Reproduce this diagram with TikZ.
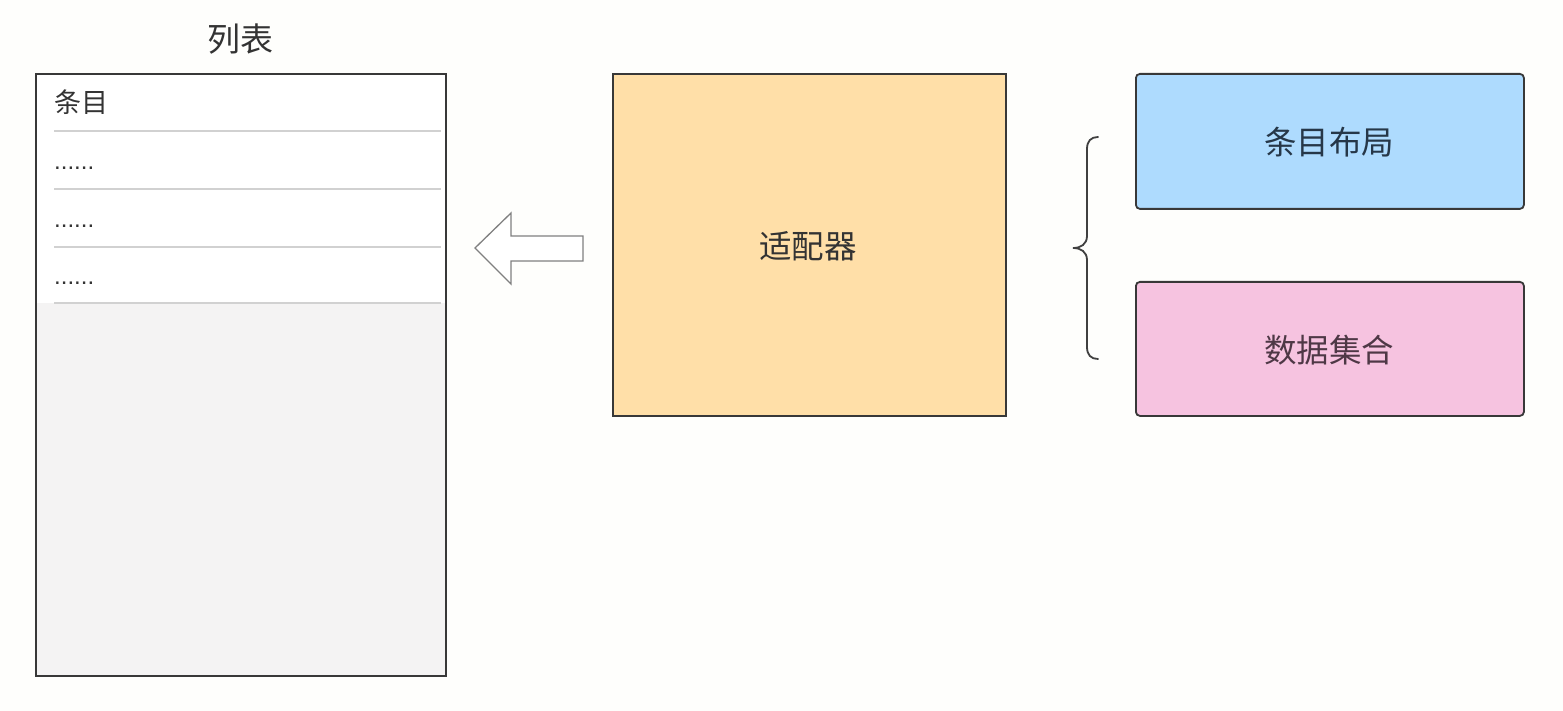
\documentclass[tikz,border=0pt]{standalone}
\usepackage{fontspec}
\setmainfont{Noto Sans CJK SC}
\newfontfamily\latinfont{Liberation Sans}
\begin{document}
\begin{tikzpicture}[x=1pt,y=-1pt,
  box/.style={draw=black!78,line width=1.8pt},
  rowline/.style={draw=black!18,line width=1.2pt},
  label/.style={text=black!80,font=\fontsize{32.5}{38}\selectfont,inner sep=0pt},
  dots/.style={anchor=base west,text=black!80,font=\latinfont\fontsize{24}{28}\selectfont,inner sep=0pt},
  hollowarrow/.style={draw=black!50,line width=1.3pt,fill=white,line join=miter},
  bracestyle/.style={draw=black!75,line width=1.8pt,line cap=round}]
\definecolor{bg}{HTML}{FEFEFC}
\definecolor{listgray}{HTML}{F4F3F3}
\definecolor{adapt}{HTML}{FFDFA8}
\definecolor{bluebox}{HTML}{AEDBFE}
\definecolor{pinkbox}{HTML}{F6C3E0}
\fill[bg] (0,0) rectangle (1563,711);
\useasboundingbox (0,0) rectangle (1563,711);
% list
\fill[white] (35,73) rectangle (445,303);
\fill[listgray] (35,303) rectangle (445,675);
\node[box,minimum width=410pt,minimum height=602pt,anchor=north west,inner sep=0pt] (list) at (35,73) {};
\node[label,font=\fontsize{33}{38}\selectfont] (title) at (240,39) {列表};
\node[label,anchor=west,font=\fontsize{27}{31}\selectfont] (item) at (54,102) {条目};
\draw[rowline] (54,131) coordinate (r1a) -- (441,131) coordinate (r1b);
\draw[rowline] (54,189) coordinate (r2a) -- (441,189) coordinate (r2b);
\draw[rowline] (54,247) coordinate (r3a) -- (441,247) coordinate (r3b);
\draw[rowline] (54,303) coordinate (r4a) -- (441,303) coordinate (r4b);
\node[dots] (d1) at (54,170) {......};
\node[dots] (d2) at (54,228) {......};
\node[dots] (d3) at (54,285) {......};
% arrow
\draw[hollowarrow] (475,248) -- (511,213) -- (511,236) -- (583,236) -- (583,261) -- (511,261) -- (511,284) -- cycle;
% adapter
\node[box,fill=adapt,minimum width=393pt,minimum height=342pt,anchor=north west,inner sep=0pt] (adapter) at (612,73) {};
\node[label] (adaptertext) at (808,246) {适配器};
% brace
\draw[bracestyle] (1098,137) .. controls (1091,137) and (1087,141) .. (1087,149) -- (1087,236) .. controls (1087,244) and (1081,248) .. (1073,248) .. controls (1081,248) and (1087,252) .. (1087,260) -- (1087,347) .. controls (1087,355) and (1091,359) .. (1098,359);
% right boxes
\node[box,fill=bluebox,rounded corners=4pt,minimum width=388pt,minimum height=135pt,anchor=north west,inner sep=0pt] (layout) at (1135,73) {};
\node[label,text={rgb,255:red,38;green,55;blue,72}] (layouttext) at (1329,142) {条目布局};
\node[box,fill=pinkbox,rounded corners=4pt,minimum width=388pt,minimum height=134pt,anchor=north west,inner sep=0pt] (data) at (1135,281) {};
\node[label,text={rgb,255:red,78;green,56;blue,70}] (datatext) at (1329,350) {数据集合};
\end{tikzpicture}
\end{document}
